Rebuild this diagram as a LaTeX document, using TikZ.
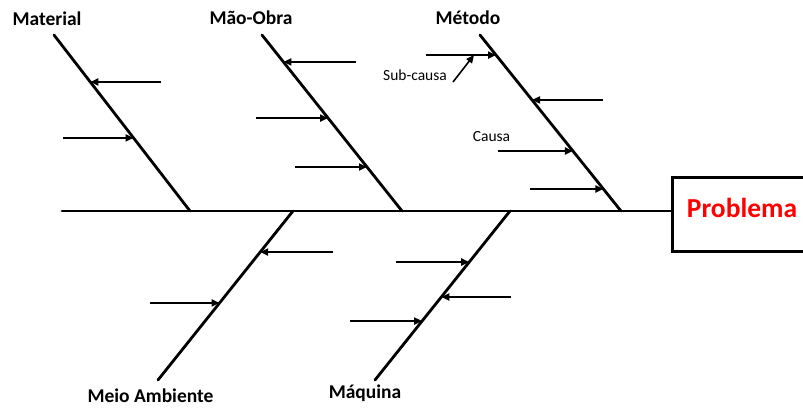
\documentclass[tikz,border=0pt]{standalone}
\usepackage{fontspec}
\setmainfont{Carlito}
\usetikzlibrary{calc,arrows.meta}
\begin{document}
\begin{tikzpicture}[x=1pt,y=-1pt,
  bone/.style={line width=2.8pt,line cap=round},
  twig/.style={line width=1.9pt,-{Triangle[length=8pt,width=7pt]}},
  cat/.style={font=\bfseries\fontsize{19.5}{22}\selectfont,anchor=base,inner sep=0pt},
  small/.style={font=\fontsize{15.5}{17}\selectfont,anchor=base,inner sep=0pt},
  probbox/.style={draw,line width=2.8pt,minimum width=150pt,minimum height=74pt,anchor=north west,inner sep=0pt},
  probtext/.style={font=\bfseries\fontsize{27.5}{30}\selectfont,text=red,anchor=base,inner sep=0pt}]
\useasboundingbox (0,0) rectangle (803,407);
\clip (0,0) rectangle (803,407);
% spine and problem box
\node[probbox] (box) at (671,176) {};
\node[probtext] (prob) at (742,217) {Problema};
\coordinate (s0) at (62,211);
\draw[bone] (s0) -- (s0 -| box.west);
% bones
\coordinate (m1) at (54,35);  \coordinate (m2) at (190,211);
\coordinate (o1) at (262,35); \coordinate (o2) at (402,211);
\coordinate (t1) at (480,35); \coordinate (t2) at (621,211);
\coordinate (a1) at (293,211); \coordinate (a2) at (158,380);
\coordinate (q1) at (510,211); \coordinate (q2) at (375,380);
\draw[bone] (m1) -- (m2);
\draw[bone] (o1) -- (o2);
\draw[bone] (t1) -- (t2);
\draw[bone] (a1) -- (a2);
\draw[bone] (q1) -- (q2);
% labels
\node[cat] (lm) at (47,25) {Material};
\node[cat] (lo) at (251,24) {Mão-Obra};
\node[cat] (lt) at (468,24) {Método};
\node[cat] (la) at (150.5,402) {Meio Ambiente};
\node[cat] (lq) at (365,398) {Máquina};
% tips on the bones
\coordinate (mA) at ($(m1)!0.267!(m2)$);
\coordinate (mB) at ($(m1)!0.585!(m2)$);
\coordinate (oA) at ($(o1)!0.153!(o2)$);
\coordinate (oB) at ($(o1)!0.472!(o2)$);
\coordinate (oC) at ($(o1)!0.75!(o2)$);
\coordinate (tA) at ($(t1)!0.114!(t2)$);
\coordinate (tB) at ($(t1)!0.369!(t2)$);
\coordinate (tC) at ($(t1)!0.659!(t2)$);
\coordinate (tD) at ($(t1)!0.875!(t2)$);
\coordinate (aA) at ($(a1)!0.243!(a2)$);
\coordinate (aB) at ($(a1)!0.544!(a2)$);
\coordinate (qA) at ($(q1)!0.302!(q2)$);
\coordinate (qB) at ($(q1)!0.509!(q2)$);
\coordinate (qC) at ($(q1)!0.651!(q2)$);
% start points
\coordinate (mAs) at ($(mA)+(71,0)$);
\coordinate (mBs) at ($(mB)+(-71,0)$);
\coordinate (oAs) at ($(oA)+(73,0)$);
\coordinate (oBs) at ($(oB)+(-72,0)$);
\coordinate (oCs) at ($(oC)+(-72,0)$);
\coordinate (tAs) at ($(tA)+(-70,0)$);
\coordinate (tBs) at ($(tB)+(71,0)$);
\coordinate (tCs) at ($(tC)+(-75,0)$);
\coordinate (tDs) at ($(tD)+(-73,0)$);
\coordinate (aAs) at ($(aA)+(73,0)$);
\coordinate (aBs) at ($(aB)+(-70,0)$);
\coordinate (qAs) at ($(qA)+(-73,0)$);
\coordinate (qBs) at ($(qB)+(70,0)$);
\coordinate (qCs) at ($(qC)+(-72,0)$);
\foreach \p in {mA,mB,oA,oB,oC,tA,tB,tC,tD,aA,aB,qA,qB,qC}
  \draw[twig] (\p s) -- (\p);
% sub-cause
\coordinate (subs) at (453,82);
\coordinate (subt) at (474,55);
\draw[twig,line width=1.6pt] (subs) -- (subt);
\node[small] (lsub) at (415,80) {Sub-causa};
\node[small] (lcausa) at (491.5,141.5) {Causa};
\end{tikzpicture}
\end{document}
